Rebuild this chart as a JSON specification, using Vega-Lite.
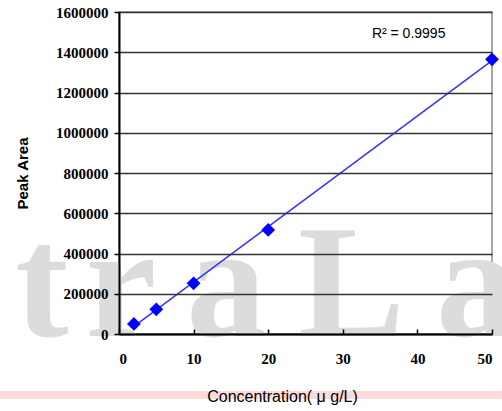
{
  "$schema": "https://vega.github.io/schema/vega-lite/v6.json",
  "width": 373,
  "height": 322,
  "autosize": {"type": "none"},
  "padding": {"left": 119, "top": 12, "right": 10, "bottom": 77},
  "background": "white",
  "config": {
    "view": {"stroke": "#8a8a8a", "strokeWidth": 1.5},
    "axis": {
      "labelFont": "Liberation Serif",
      "labelFontWeight": "bold",
      "labelFontSize": 15,
      "labelColor": "#000",
      "domainColor": "#000",
      "domainWidth": 2,
      "tickColor": "#000",
      "tickWidth": 1.5,
      "titleFont": "Liberation Sans",
      "titleFontWeight": "normal",
      "titleFontSize": 12,
      "titleColor": "#000"
    }
  },
  "datasets": {
    "pts": [
      {"conc": 2, "area": 50000},
      {"conc": 5, "area": 122700},
      {"conc": 10, "area": 252000},
      {"conc": 20, "area": 517000},
      {"conc": 50, "area": 1365000}
    ],
    "wm": [
      {"ch": "t", "conc": -13.9, "area": -10000},
      {"ch": "r", "conc": -4.5, "area": -10000},
      {"ch": "a", "conc": 9.0, "area": -10000},
      {"ch": "L", "conc": 24.0, "area": -10000},
      {"ch": "a", "conc": 42.5, "area": -10000}
    ],
    "band": [
      {"conc": -16, "conc2": 52, "area": -303000}
    ],
    "note": [
      {"label": "R² = 0.9995", "conc": 33.9, "area": 1492000}
    ]
  },
  "layer": [
    {
      "data": {"name": "wm"},
      "mark": {"type": "text", "font": "Liberation Serif", "fontWeight": "bold", "fontSize": 160, "color": "#dcdcdc", "align": "left", "baseline": "alphabetic"},
      "encoding": {
        "x": {"field": "conc", "type": "quantitative", "scale": {"domain": [0, 50], "nice": false, "zero": false}},
        "y": {"field": "area", "type": "quantitative", "scale": {"domain": [0, 1600000], "nice": false}},
        "text": {"field": "ch"}
      }
    },
    {
      "data": {"name": "band"},
      "mark": {"type": "rule", "color": "#fcdada", "strokeWidth": 8},
      "encoding": {
        "x": {"field": "conc", "type": "quantitative"},
        "x2": {"field": "conc2"},
        "y": {"field": "area", "type": "quantitative"}
      }
    },
    {
      "data": {"name": "pts"},
      "transform": [{"regression": "area", "on": "conc", "extent": [2, 50]}],
      "mark": {"type": "line", "color": "#3333ff", "strokeWidth": 1.5},
      "encoding": {
        "x": {"field": "conc", "type": "quantitative"},
        "y": {"field": "area", "type": "quantitative"}
      }
    },
    {
      "data": {"name": "pts"},
      "mark": {"type": "point", "shape": "diamond", "filled": true, "size": 190, "color": "#0000ff", "opacity": 1},
      "encoding": {
        "x": {
          "field": "conc", "type": "quantitative",
          "axis": {
            "title": "Concentration( μ g/L)",
            "values": [0, 10, 20, 30, 40, 50],
            "grid": false,
            "tickSize": -5,
            "labelPadding": 22,
            "titleX": 163,
            "titleY": 67,
            "titleBaseline": "alphabetic",
            "titleFontSize": 16,
            "zindex": 2
          }
        },
        "y": {
          "field": "area", "type": "quantitative",
          "axis": {
            "title": "Peak Area",
            "values": [0, 200000, 400000, 600000, 800000, 1000000, 1200000, 1400000, 1600000],
            "format": "d",
            "grid": true,
            "gridColor": "#333333",
            "gridWidth": 1.3,
            "tickSize": 5,
            "labelPadding": 6,
            "titlePadding": 25,
            "titleFontSize": 15,
            "titleFontWeight": "bold",
            "zindex": 2
          }
        }
      }
    },
    {
      "data": {"name": "note"},
      "mark": {"type": "text", "font": "Liberation Sans", "fontSize": 14, "color": "#000", "align": "left", "baseline": "middle"},
      "encoding": {
        "x": {"field": "conc", "type": "quantitative"},
        "y": {"field": "area", "type": "quantitative"},
        "text": {"field": "label"}
      }
    }
  ]
}
